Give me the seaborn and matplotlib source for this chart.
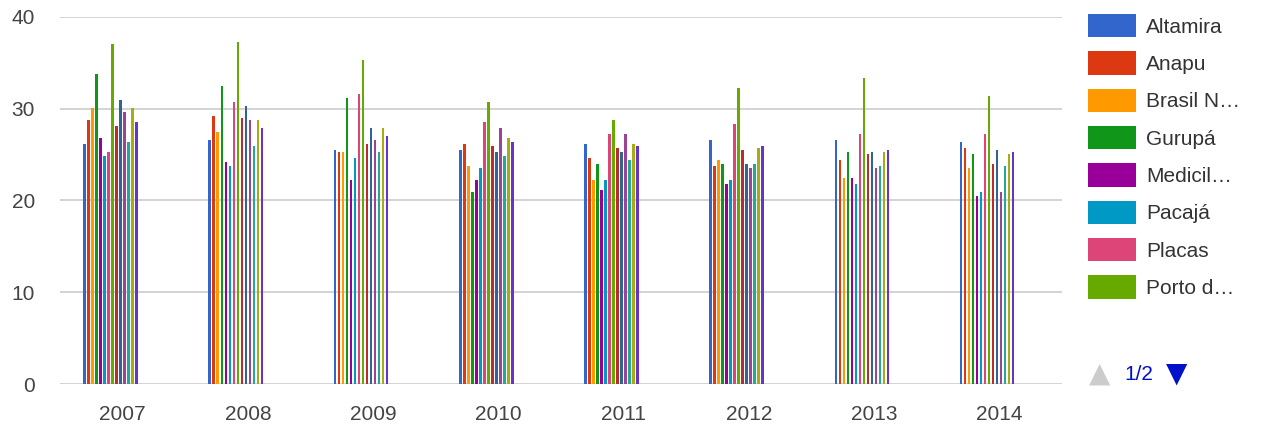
import pandas as pd
import matplotlib.pyplot as plt
import seaborn as sns
from matplotlib.patches import Patch

years = ["2007", "2008", "2009", "2010", "2011", "2012", "2013", "2014"]

series = [
    "Altamira", "Anapu", "Brasil Novo", "Gurupá", "Medicilândia", "Pacajá",
    "Placas", "Porto de Moz", "Senador José Porfírio", "Uruará",
    "Vitória do Xingu", "Transamazônica", "Pará", "Brasil",
]
# series slots without data in these years (the chart keeps room for them)
empty_series = ["s15", "s16", "s17", "s18", "s19", "s20"]

legend_labels = ["Altamira", "Anapu", "Brasil N…", "Gurupá", "Medicil…",
                 "Pacajá", "Placas", "Porto d…"]

colors = ["#3366cc", "#dc3912", "#ff9900", "#109618", "#990099", "#0099c6",
          "#dd4477", "#66aa00", "#b82e2e", "#316395", "#994499", "#22aa99",
          "#aaaa11", "#6633cc", "#e67300", "#8b0707", "#651067", "#329262",
          "#5574a6", "#3b3eac"]

# one list per series, values for 2007..2014
altamira = [26.2, 26.6, 25.5, 25.5, 26.2, 26.6, 26.6, 26.4]
anapu = [28.8, 29.2, 25.3, 26.2, 24.6, 23.8, 24.4, 25.7]
brasil_novo = [30.1, 27.5, 25.3, 23.8, 22.2, 24.4, 22.5, 23.5]
gurupa = [33.8, 32.5, 31.2, 20.9, 24.0, 24.0, 25.3, 25.1]
medicilandia = [26.8, 24.2, 22.2, 22.2, 21.1, 21.8, 22.5, 20.5]
pacaja = [24.8, 23.8, 24.6, 23.5, 22.2, 22.2, 21.8, 20.9]
placas = [25.3, 30.7, 31.6, 28.6, 27.2, 28.3, 27.2, 27.2]
porto_de_moz = [37.1, 37.3, 35.3, 30.7, 28.8, 32.3, 33.4, 31.4]
senador = [28.1, 29.0, 26.2, 25.9, 25.7, 25.5, 25.1, 24.0]
uruara = [31.0, 30.3, 27.9, 25.3, 25.3, 24.0, 25.3, 25.5]
vitoria = [29.6, 28.8, 26.6, 27.9, 27.2, 23.5, 23.5, 20.9]
transamazonica = [26.4, 25.9, 25.3, 24.8, 24.4, 24.0, 23.8, 23.8]
para = [30.1, 28.8, 27.9, 26.8, 26.2, 25.7, 25.3, 25.1]
brasil = [28.6, 27.9, 27.0, 26.4, 25.9, 25.9, 25.5, 25.3]

all_values = [altamira, anapu, brasil_novo, gurupa, medicilandia, pacaja,
              placas, porto_de_moz, senador, uruara, vitoria, transamazonica,
              para, brasil]

rows = []
for name, vals in zip(series, all_values):
    for yr, v in zip(years, vals):
        rows.append({"ano": yr, "municipio": name, "valor": v})
df = pd.DataFrame(rows)

sns.set_style("white")
plt.rcParams["font.family"] = ["Liberation Sans", "DejaVu Sans"]

fig = plt.figure(figsize=(12.61, 4.28), dpi=100)
ax = fig.add_axes([0.0476, 0.1028, 0.7944, 0.8575])

sns.barplot(data=df, x="ano", y="valor", hue="municipio", order=years,
            hue_order=series + empty_series, palette=colors, width=0.64,
            gap=0.35, saturation=1, errorbar=None, legend=False, linewidth=0,
            ax=ax)
for p in ax.patches:
    p.set_antialiased(False)
    p.set_zorder(3)

ax.set_ylim(0, 40)
ax.set_yticks([0, 10, 20, 30, 40])
ax.set_xlim(-0.5, len(years) - 0.5)
ax.grid(axis="y", color="#cccccc", linewidth=1.2, zorder=0)
ax.set_axisbelow(True)
for s in ax.spines.values():
    s.set_visible(False)
ax.set_xlabel("")
ax.set_ylabel("")
ax.tick_params(axis="both", length=0, labelsize=15, colors="#444444")
ax.tick_params(axis="y", pad=18)
ax.tick_params(axis="x", pad=15)

handles = [Patch(facecolor=c, edgecolor="none") for c in colors[:8]]
fig.legend(handles, legend_labels, loc="upper left",
           bbox_to_anchor=(1088 / 1261, 1 - 14 / 428), frameon=False,
           fontsize=15, handlelength=2.3, handleheight=1.35,
           labelspacing=0.67, handletextpad=0.5, labelcolor="#333333",
           borderaxespad=0, borderpad=0)

# legend paging
fig.text(1100 / 1261, 1 - 374 / 428, "▲", color="#cccccc", fontsize=20,
         ha="center", va="center", family="DejaVu Sans")
fig.text(1139 / 1261, 1 - 375 / 428, "1/2", color="#0011cc", fontsize=15,
         ha="center", va="center")
fig.text(1177 / 1261, 1 - 374 / 428, "▼", color="#0011cc", fontsize=20,
         ha="center", va="center", family="DejaVu Sans")

fig.savefig("out.png", dpi=100)
